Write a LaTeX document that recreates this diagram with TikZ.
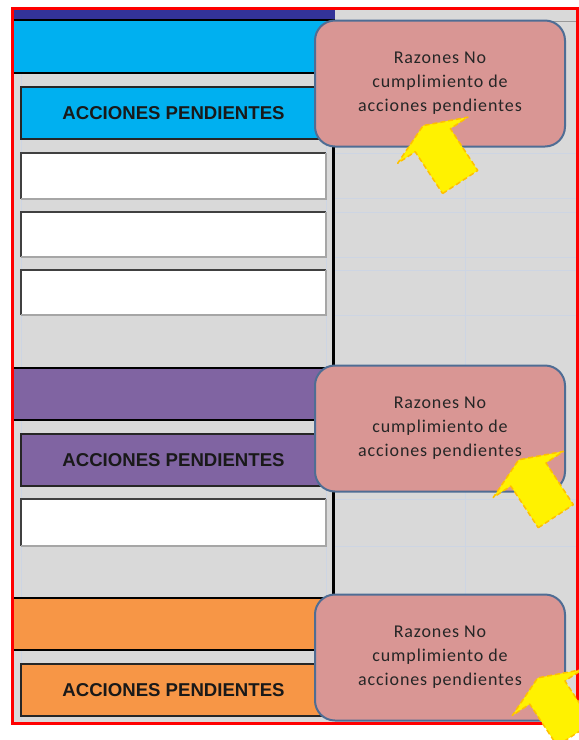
\documentclass[tikz,border=0pt]{standalone}
\usepackage{fontspec}
\setmainfont{Liberation Sans}
\newfontfamily\calloutfont[LetterSpace=5]{Carlito}
\definecolor{sheetgray}{HTML}{D9D9D9}
\definecolor{gridblue}{HTML}{CDD5E3}
\definecolor{navybar}{HTML}{333399}
\definecolor{cyanband}{HTML}{00B0F0}
\definecolor{purpleband}{HTML}{8064A2}
\definecolor{orangeband}{HTML}{F79646}
\definecolor{calloutfill}{HTML}{D99694}
\definecolor{calloutedge}{HTML}{4F6D94}
\definecolor{arrowedge}{HTML}{FFC000}
\tikzset{
  bandline/.style={draw=black,line width=2.5pt},
  gridline/.style={draw=gridblue,line width=0.8pt},
  cellhi/.style={draw=black!75,line width=1.5pt},
  celllo/.style={draw=black!35,line width=1.5pt},
  labelbox/.style={draw=black!85,line width=1.5pt,minimum width=305pt,minimum height=52pt,
    inner sep=0pt,font=\fontsize{18.6}{20}\selectfont\bfseries,text=black!90},
  callout/.style={fill=calloutfill,draw=calloutedge,line width=2pt,rounded corners=20pt,
    minimum width=250pt,minimum height=126pt,inner sep=0pt,align=center,
    font=\calloutfont\fontsize{18}{24}\selectfont,text=black!85},
  tiparrow/.style={fill=yellow,draw=arrowedge,line width=1.5pt,dash pattern=on 5pt off 3pt,line join=round}
}

\begin{document}
\begin{tikzpicture}[x=1pt,y=-1pt]
  \useasboundingbox (0,0) rectangle (579,740);
  \fill[sheetgray] (14,10) rectangle (576,722);
  \draw[gridline] (465,22) -- (465,721);
  \draw[gridline] (21,20) -- (21,721);
  \draw[gridline] (326,20) -- (326,721);
  \foreach \gy in {153,198,212,257,270,315,499,546}
    \draw[gridline] (335,\gy) -- (576,\gy);
  \draw[draw=black!40,line width=1pt] (335,21.5) -- (576,21.5);
  \fill[navybar] (14,10) rectangle (335,19);
  \fill[cyanband] (14,20) rectangle (333,73);
  \fill[purpleband] (14,368) rectangle (333,420);
  \fill[orangeband] (14,598) rectangle (333,650);
  \foreach \ly in {20,73,368,420,598,650}
    \draw[bandline] (14,\ly) -- (334.5,\ly);
  \draw[bandline] (333.5,20) -- (333.5,598);
  \foreach \ya/\yb in {153/199,212/257,270/315,499/546} {
    \fill[white] (21,\ya) rectangle (326,\yb);
    \draw[cellhi] (21,\yb) -- (21,\ya) -- (326,\ya);
    \draw[celllo] (326,\ya) -- (326,\yb) -- (21,\yb);
  }
  \node (pend1) at (173.5,113) [labelbox,fill=cyanband] {ACCIONES PENDIENTES};
  \node (pend2) at (173.5,460) [labelbox,fill=purpleband] {ACCIONES PENDIENTES};
  \node (pend3) at (173.5,690) [labelbox,fill=orangeband] {ACCIONES PENDIENTES};
  \node (why1) at (440,83.5) [callout] {Razones No\\cumplimiento de\\acciones pendientes};
  \node (why2) at (440,428.5) [callout] {Razones No\\cumplimiento de\\acciones pendientes};
  \node (why3) at (440,657.5) [callout] {Razones No\\cumplimiento de\\acciones pendientes};
  \draw[red,line width=3pt] (12.5,8.5) rectangle (577,723);
  \foreach \bx/\by in {460.2/182,555.8/516.2,574.8/734.3}
    \draw[tiparrow,shift={(\bx,\by)},rotate=33.3]
      (-21,0) -- (21,0) -- (21,-50) -- (42,-50) -- (0,-67.5) -- (-42,-50) -- (-21,-50) -- cycle;
\end{tikzpicture}
\end{document}
